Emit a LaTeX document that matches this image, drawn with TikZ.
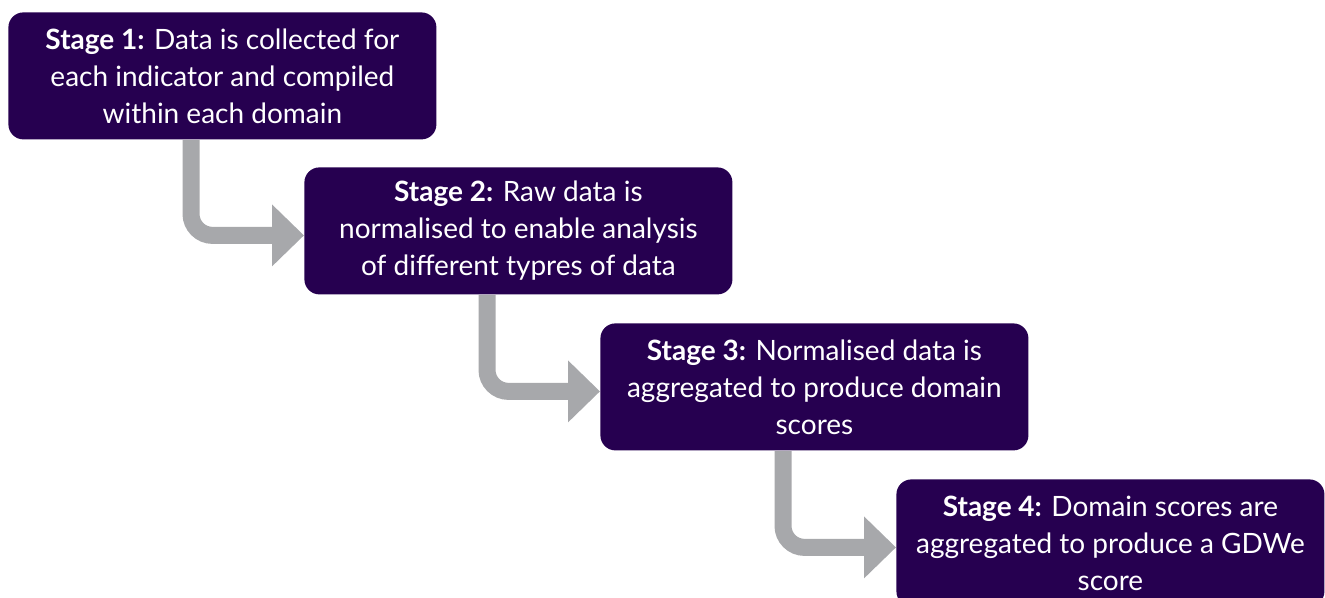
\documentclass[tikz,border=0pt]{standalone}
\usepackage{fontspec}
\setmainfont{Lato}
\usetikzlibrary{arrows.meta}
\definecolor{stagepurple}{RGB}{38,0,80}
\definecolor{arrowgrey}{RGB}{167,168,171}
\begin{document}
\begin{tikzpicture}[x=0.5pt,y=-0.5pt,
  stagebox/.style={fill=stagepurple, rounded corners=7.5pt, text=white,
    minimum width=214pt, minimum height=63.5pt, align=center,
    font=\fontsize{14}{18.5}\selectfont, inner sep=0pt, anchor=north west},
  flowarrow/.style={draw=arrowgrey, line width=8.5pt, rounded corners=10.75pt,
    -{Triangle[width=30pt,length=16pt]}}]
\useasboundingbox (0,0) rectangle (1325,598);
\clip (0,0) rectangle (1325,598);
\node[stagebox] (s1) at (8,12) {\textbf{Stage 1:} Data is collected for\\each indicator and compiled\\within each domain};
\node[stagebox] (s2) at (304,167) {\textbf{Stage 2:} Raw data is\\normalised to enable analysis\\of different typres of data};
\node[stagebox] (s3) at (600,323) {\textbf{Stage 3:} Normalised data is\\aggregated to produce domain\\scores};
\node[stagebox] (s4) at (896,479) {\textbf{Stage 4:} Domain scores are\\aggregated to produce a GDWe\\score};
\draw[flowarrow] ([xshift=91.5pt]s1.south west) |- ([yshift=-2.25pt]s2.west);
\draw[flowarrow] ([xshift=91.5pt]s2.south west) |- ([yshift=-2.25pt]s3.west);
\draw[flowarrow] ([xshift=91.5pt]s3.south west) |- ([yshift=-2.25pt]s4.west);
\end{tikzpicture}
\end{document}
